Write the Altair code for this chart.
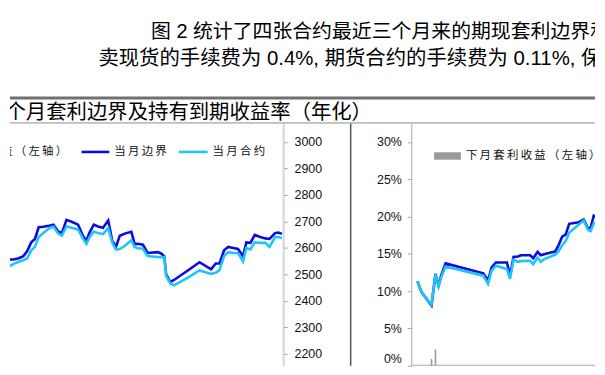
import altair as alt
import pandas as pd

CJK = "Noto Sans CJK SC"
LAT = "Liberation Sans"
MIX = "Liberation Sans, Noto Sans CJK SC"

# ---------------- text content ----------------
para_line1 = "图 2 统计了四张合约最近三个月来的期现套利边界和"
para_line2 = "卖现货的手续费为 0.4%, 期货合约的手续费为 0.11%, 保"
title_text = "三个月套利边界及持有到期收益率（年化）"
left_legend_labels = ["益（左轴）", "当月边界", "当月合约"]
right_legend_label = "下月套利收益（左轴）"

# ---------------- left panel: 当月边界 / 当月合约 (right axis) ----------------
left_t = [0.0, 0.7, 1.4, 2.5, 3.6, 4.6, 5.4, 6.3, 7.1, 7.9, 8.9, 10.4, 11.1, 12.1, 12.9,
          13.9, 15.0, 16.4, 17.5, 18.2, 18.9, 19.8, 20.7, 21.8, 22.9, 23.8, 24.6, 25.4,
          26.6, 27.9, 28.6, 29.3, 30.4, 31.4, 33.6, 34.3, 35.0, 35.4, 36.3, 37.1, 40.0,
          42.6, 45.1, 46.1, 46.9, 47.9, 48.8, 49.9, 50.9, 52.0, 52.7, 53.6, 54.5, 55.7,
          56.8, 57.7, 58.9, 59.6, 60.4]
left_bound = [2544, 2569, 2556, 2556, 2561, 2569, 2587, 2621, 2634, 2678, 2680, 2685, 2688,
              2662, 2656, 2706, 2699, 2688, 2644, 2627, 2659, 2688, 2681, 2676, 2704, 2625,
              2606, 2646, 2655, 2661, 2615, 2616, 2612, 2581, 2584, 2579, 2569, 2500, 2471,
              2479, 2514, 2546, 2519, 2541, 2541, 2591, 2604, 2600, 2596, 2569, 2621, 2619,
              2649, 2641, 2636, 2634, 2656, 2658, 2653]
left_contract = [2521, 2544, 2529, 2540, 2548, 2554, 2560, 2591, 2604, 2641, 2656, 2677, 2681,
                 2654, 2646, 2681, 2676, 2669, 2634, 2615, 2641, 2662, 2656, 2652, 2675, 2619,
                 2594, 2596, 2609, 2629, 2604, 2599, 2597, 2569, 2566, 2565, 2566, 2494, 2466,
                 2459, 2487, 2515, 2502, 2506, 2516, 2569, 2584, 2581, 2581, 2549, 2600, 2594,
                 2621, 2619, 2619, 2604, 2641, 2641, 2637]
left_ticks = [2200, 2300, 2400, 2500, 2600, 2700, 2800, 2900, 3000]

# ---------------- right panel: yields (left axis) ----------------
right_t = [12.5, 13.4, 15.7, 16.6, 17.3, 17.9, 18.9, 27.5, 28.6, 29.4, 30.4, 32.9, 33.6,
           34.4, 35.4, 36.1, 38.2, 38.9, 39.9, 40.6, 41.4, 42.9, 43.9, 44.6, 45.5, 46.3,
           47.1, 49.3, 50.4, 51.4, 52.0, 52.7, 53.6]
right_bound = [11.33, 9.87, 8.10, 12.30, 10.75, 12.08, 13.72, 12.39, 11.42, 13.19, 13.85,
               13.85, 12.08, 14.60, 14.65, 14.82, 14.82, 14.42, 15.27, 14.82, 14.96, 15.18,
               15.31, 16.06, 17.30, 17.57, 19.03, 19.25, 19.60, 18.41, 18.50, 20.13, 19.96]
right_contract = [11.33, 9.87, 8.19, 12.21, 10.62, 11.86, 13.32, 12.08, 10.97, 12.74, 13.41,
                  12.96, 11.64, 14.20, 13.94, 14.03, 14.07, 13.63, 14.51, 13.94, 14.29, 14.65,
                  14.91, 15.27, 16.15, 16.73, 17.83, 18.94, 19.47, 18.19, 18.05, 19.12, 19.03]
right_bar = [0, 0, 0.9, 2.2, 0, 0, 0, 0, 0, 0, 0, 0, 0, 0, 0, 0, 0, 0, 0, 0, 0, 0, 0, 0,
             0, 0, 0, 0, 0, 0, 0, 0, 0]
right_ticks = [0, 0.05, 0.10, 0.15, 0.20, 0.25, 0.30]

BLUE = "#0B0BE6"
CYAN = "#1CC6F8"
GRAY_BAR = "#9A9A9A"

W_TOTAL = 589
TOP_H = 115
PLOT_H = 244
LEFT_W = 275
RIGHT_W = 185
GAP = 129

dummy = pd.DataFrame({"d": [0]})


def spaced(s):
    return "\u2009".join(list(s))


def text_layer(s, x, y, size, font=CJK, color="#111111", clip=True):
    return alt.Chart(pd.DataFrame({"s": [s]})).mark_text(
        align="left", baseline="middle", fontSize=size, font=font, color=color, clip=clip
    ).encode(x=alt.value(x), y=alt.value(y), text="s:N")


def hrule(x1, x2, y, color, width):
    return alt.Chart(dummy).mark_rule(color=color, strokeWidth=width).encode(
        x=alt.value(x1), x2=alt.value(x2), y=alt.value(y))


# ---------------- top block ----------------
top = alt.layer(
    text_layer(para_line1, 142, 23, 20, font=MIX, color="#000000"),
    text_layer(para_line2, 89, 50, 20.5, font=MIX, color="#000000"),
    hrule(0, W_TOTAL, 89.5, "#707070", 3),
    text_layer(title_text, -25, 104.5, 20.5, color="#000000"),
    hrule(0, W_TOTAL, 114.5, "#8a8a8a", 1),
).properties(width=W_TOTAL, height=TOP_H)

# ---------------- left panel ----------------
left_df = pd.DataFrame({"t": left_t, "bound": left_bound, "contract": left_contract})
lx = alt.X("t:Q", scale=alt.Scale(domain=[1.714, 60.64], nice=False, zero=False), axis=None)
ly_scale = alt.Scale(domain=[2155, 3070], nice=False, zero=False)
left_axis = alt.Axis(orient="right", values=left_ticks, title=None, grid=False,
                     domainColor="#d4d4d4", domainWidth=2, tickColor="#9a9a9a",
                     tickSize=4, labelPadding=7, labelFontSize=12.5, labelFont=LAT,
                     labelColor="#111111", format="d")

left_base = alt.Chart(left_df)
left_bound_line = left_base.mark_line(color=BLUE, strokeWidth=2.6, clip=True).encode(
    x=lx, y=alt.Y("bound:Q", scale=ly_scale, axis=left_axis))
left_contract_line = left_base.mark_line(color=CYAN, strokeWidth=2.6, clip=True).encode(
    x=lx, y=alt.Y("contract:Q", scale=ly_scale, axis=left_axis))

LEG_Y_L = 28.7
left_legend = alt.layer(
    text_layer(spaced(left_legend_labels[0]), -9, LEG_Y_L, 11.5),
    hrule(72, 100, LEG_Y_L, BLUE, 2.6),
    text_layer(spaced(left_legend_labels[1]), 105, LEG_Y_L, 11.5),
    hrule(170, 199, LEG_Y_L, CYAN, 2.6),
    text_layer(spaced(left_legend_labels[2]), 204, LEG_Y_L, 11.5),
)
divider = alt.Chart(dummy).mark_rule(color="#555555", strokeWidth=1.5).encode(
    x=alt.value(343), y=alt.value(0), y2=alt.value(PLOT_H))

left = alt.layer(left_bound_line, left_contract_line, left_legend, divider).properties(
    width=LEFT_W, height=PLOT_H)

# ---------------- right panel ----------------
right_df = pd.DataFrame({"t": right_t,
                         "bound": [v / 100 for v in right_bound],
                         "contract": [v / 100 for v in right_contract],
                         "bar": [v / 100 for v in right_bar]})
rx = alt.X("t:Q", scale=alt.Scale(domain=[12.21, 51.86], nice=False, zero=False), axis=None)
ry_scale = alt.Scale(domain=[0, 0.3248], nice=False, zero=False)
right_axis = alt.Axis(orient="left", values=right_ticks, format=".0%", title=None, grid=False,
                      domainColor="#a8a8a8", domainWidth=1, tickColor="#a8a8a8",
                      tickSize=4, labelPadding=6, labelFontSize=12.5, labelFont=LAT,
                      labelColor="#111111", labelFlush=True)

right_base = alt.Chart(right_df)
right_bars = right_base.mark_bar(color=GRAY_BAR, size=1.6, clip=True).encode(
    x=rx, y=alt.Y("bar:Q", scale=ry_scale, axis=right_axis))
right_bound_line = right_base.mark_line(color=BLUE, strokeWidth=2.6, clip=True).encode(
    x=rx, y=alt.Y("bound:Q", scale=ry_scale, axis=right_axis))
right_contract_line = right_base.mark_line(color=CYAN, strokeWidth=2.6, clip=True).encode(
    x=rx, y=alt.Y("contract:Q", scale=ry_scale, axis=right_axis))

right_legend = alt.layer(
    alt.Chart(dummy).mark_rect(color=GRAY_BAR).encode(
        x=alt.value(23), x2=alt.value(50), y=alt.value(29), y2=alt.value(36.5)),
    text_layer(spaced(right_legend_label), 55, 32.7, 11.5),
)
right_baseline = hrule(0, RIGHT_W, PLOT_H - 0.5, "#a8a8a8", 1)

right = alt.layer(right_bars, right_baseline, right_bound_line, right_contract_line,
                  right_legend).properties(width=RIGHT_W, height=PLOT_H)

body = alt.hconcat(left, right, spacing=GAP, bounds="flush")
chart = alt.vconcat(top, body, spacing=0, bounds="flush").properties(padding=0).configure_view(
    stroke=None)

chart.save("out.html", embed_options={"renderer": "svg", "actions": False})
